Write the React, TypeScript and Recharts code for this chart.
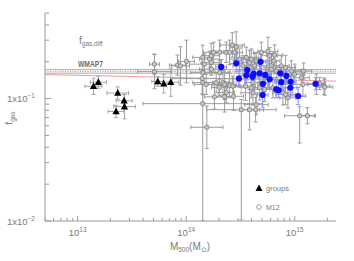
import React from 'react';
import { ScatterChart, Scatter, XAxis, YAxis, ErrorBar, ReferenceLine, ReferenceArea } from 'recharts';

const AXIS = '#9c9c9c';
const TXT = '#7a7a7a';
const FONT = '"Liberation Sans", Arial, sans-serif';

// Masses in units of 1e14 Msun
const groupsMass = [0.14, 0.155, 0.234, 0.268, 0.27, 0.226, 0.547, 0.621, 0.721];
const groupsFgas = [0.126, 0.136, 0.111, 0.096, 0.086, 0.0785, 0.138, 0.132, 0.136];
const groupsMassErr = [0.078, 0.074, 0.1, 0.074, 0.1, 0.074, 0.055, 0.074, 0.074];
const groupsFgasErr = [0.066, 0.05, 0.05, 0.05, 0.1, 0.05, 0.04, 0.075, 0.115];

const blueMass = [2.1, 2.89, 4.85, 3.65, 3.06, 3.58, 4.18, 4.75, 5.35, 5.87, 5.09, 7.36, 8.37, 7.52, 9.17, 6.76, 7.1, 9.11, 5.06, 10.75, 15.6, 4.09];
const blueFgas = [0.1815, 0.194, 0.1995, 0.171, 0.1455, 0.155, 0.159, 0.161, 0.156, 0.1436, 0.132, 0.161, 0.153, 0.136, 0.137, 0.119, 0.117, 0.1226, 0.107, 0.105, 0.132, 0.151];
const blueMassErr = [0.05, 0.06, 0.05, 0.07, 0.05, 0.06, 0.04, 0.06, 0.05, 0.06, 0.05, 0.06, 0.05, 0.06, 0.05, 0.06, 0.05, 0.06, 0.05, 0.07, 0.08, 0.05];
const blueFgasErr = [0.06, 0.07, 0.06, 0.08, 0.07, 0.06, 0.05, 0.07, 0.06, 0.07, 0.06, 0.05, 0.06, 0.06, 0.05, 0.07, 0.06, 0.06, 0.1, 0.07, 0.05, 0.06];

const m12Mass = [0.51, 0.51, 0.831, 0.886, 1.006, 1.42, 1.475, 1.64, 1.405, 1.42, 1.53, 1.7, 1.79, 2.03, 2.34, 2.66, 2.89, 2.79, 3.1, 3.58, 3.84, 4.27, 3.33, 3.98, 4.42, 4.92, 5.66, 5.87, 6.08, 6.53, 6.43, 7.52, 6.76, 8.24, 9.3, 9.98, 12.08, 11.5, 11.9, 15.8, 18.6, 16.97, 1.42, 2.03, 1.89, 2.18, 2.03, 2.26, 2.51, 2.69, 3.52, 3.98, 4.12, 4.75, 5.28, 5.66, 6.29, 7.78, 8.65, 8.24, 1.82, 2.26, 2.34, 2.73, 4.12, 3.22, 3.84, 4.36, 4.42, 1.42, 1.55, 11.1, 13.07, 18.9, 6.08, 2.51, 1.7, 1.71];
const m12Fgas = [0.191, 0.166, 0.1875, 0.185, 0.201, 0.217, 0.191, 0.21, 0.1455, 0.135, 0.1306, 0.224, 0.2385, 0.2385, 0.2385, 0.274, 0.264, 0.2385, 0.21, 0.217, 0.197, 0.185, 0.185, 0.21, 0.203, 0.2385, 0.243, 0.224, 0.185, 0.2266, 0.203, 0.185, 0.168, 0.1794, 0.168, 0.158, 0.168, 0.148, 0.1306, 0.1306, 0.1264, 0.133, 0.163, 0.163, 0.135, 0.135, 0.1233, 0.1306, 0.128, 0.1264, 0.1264, 0.1226, 0.135, 0.1226, 0.1187, 0.148, 0.1226, 0.1115, 0.1013, 0.1079, 0.1033, 0.1033, 0.112, 0.1044, 0.1115, 0.0811, 0.0811, 0.0811, 0.0892, 0.0909, 0.0583, 0.0724, 0.0724, 0.124, 0.1738, 0.2385, 0.197, 0.1738];
const m12MassErr = [0.046, 0.157, 0.074, 0.083, 0.074, 0.092, 0.138, 0.092, 0.277, 0.092, 0.11, 0.074, 0.092, 0.074, 0.092, 0.11, 0.055, 0.074, 0.092, 0.11, 0.074, 0.11, 0.092, 0.074, 0.092, 0.074, 0.092, 0.074, 0.092, 0.074, 0.055, 0.074, 0.092, 0.092, 0.074, 0.092, 0.074, 0.074, 0.092, 0.074, 0.055, 0.055, 0.11, 0.092, 0.11, 0.092, 0.074, 0.11, 0.092, 0.074, 0.092, 0.092, 0.074, 0.074, 0.092, 0.092, 0.074, 0.092, 0.074, 0.092, 0.092, 0.092, 0.074, 0.092, 0.11, 0.32, 0.092, 0.074, 0.11, 0.55, 0.148, 0.138, 0.074, 0.074, 0.092, 0.074, 0.092, 0.11];
const m12FgasErrLo = [0.083, 0.14, 0.083, 0.157, 0.174, 0.1, 0.083, 0.066, 0.124, 0.1, 0.083, 0.1, 0.083, 0.1, 0.083, 0.1, 0.124, 0.066, 0.083, 0.083, 0.1, 0.1, 0.083, 0.083, 0.066, 0.083, 0.116, 0.066, 0.1, 0.083, 0.066, 0.083, 0.083, 0.1, 0.083, 0.083, 0.066, 0.066, 0.1, 0.083, 0.066, 0.05, 0.083, 0.1, 0.083, 0.1, 0.066, 0.124, 0.1, 0.083, 0.116, 0.083, 0.083, 0.1, 0.1, 0.083, 0.083, 0.1, 0.083, 0.083, 0.1, 0.124, 0.083, 0.116, 0.1, 0.9, 0.165, 0.1, 0.083, 0.955, 0.174, 0.223, 0.066, 0.066, 0.083, 0.1, 0.083, 0.05];
const m12FgasErrHi = [0.083, 0.14, 0.083, 0.157, 0.174, 0.1, 0.083, 0.066, 0.124, 0.1, 0.083, 0.1, 0.083, 0.1, 0.083, 0.1, 0.124, 0.066, 0.083, 0.083, 0.1, 0.1, 0.083, 0.083, 0.066, 0.083, 0.116, 0.066, 0.1, 0.083, 0.066, 0.083, 0.083, 0.1, 0.083, 0.083, 0.066, 0.066, 0.1, 0.083, 0.066, 0.05, 0.083, 0.1, 0.083, 0.1, 0.066, 0.124, 0.1, 0.083, 0.116, 0.083, 0.083, 0.1, 0.1, 0.083, 0.083, 0.1, 0.083, 0.083, 0.1, 0.124, 0.083, 0.116, 0.1, 0.083, 0.165, 0.1, 0.083, 0.165, 0.174, 0.074, 0.066, 0.066, 0.083, 0.1, 0.083, 0.05];

// WMAP7 baryon fraction band and the red reference relation
const wmap7 = 0.167;
const wmap7Err = 0.006;
const redLineMass = [0.05, 24];
const redLineFgas = [0.157, 0.139];

const xDomain = [0.05, 24];
const yDomain = [0.01, 0.5];
const xTicks = [0.05, 0.06, 0.07, 0.08, 0.09, 0.1, 0.2, 0.3, 0.4, 0.5, 0.6, 0.7, 0.8, 0.9, 1, 2, 3, 4, 5, 6, 7, 8, 9, 10, 20];
const yTicks = [0.01, 0.02, 0.03, 0.04, 0.05, 0.06, 0.07, 0.08, 0.09, 0.1, 0.2, 0.3, 0.4, 0.5];

const dex = (v: number, lo: number, hi: number) => [v - v / Math.pow(10, lo), v * Math.pow(10, hi) - v];

const groupsData = groupsMass.map((m, i) => ({
  x: m, y: groupsFgas[i],
  ex: dex(m, groupsMassErr[i], groupsMassErr[i]),
  ey: dex(groupsFgas[i], groupsFgasErr[i], groupsFgasErr[i]),
}));
const blueData = blueMass.map((m, i) => ({
  x: m, y: blueFgas[i],
  ex: dex(m, blueMassErr[i], blueMassErr[i]),
  ey: dex(blueFgas[i], blueFgasErr[i], blueFgasErr[i]),
}));
const m12Data = m12Mass.map((m, i) => ({
  x: m, y: m12Fgas[i],
  ex: dex(m, m12MassErr[i], m12MassErr[i]),
  ey: dex(m12Fgas[i], m12FgasErrLo[i], m12FgasErrHi[i]),
}));

const getEx = (d: any) => (d && d.ex !== undefined ? d.ex : d?.payload?.ex);
const getEy = (d: any) => (d && d.ey !== undefined ? d.ey : d?.payload?.ey);

const isMajor = (v: number) => Math.abs(Math.log10(v) - Math.round(Math.log10(v))) < 1e-6;

const BottomTick = (p: any) => {
  const { x, y, payload } = p;
  const v = payload.value;
  const major = isMajor(v);
  const exp = 14 + Math.round(Math.log10(v));
  return (
    <g>
      <line x1={x} x2={x} y1={y} y2={y - (major ? 5 : 3)} stroke={AXIS} />
      {major && (
        <text x={x} y={y + 15} textAnchor="middle" fontSize={9.5} fill={TXT} fontFamily={FONT}>
          10<tspan dy={-4} fontSize={6.5}>{exp}</tspan>
        </text>
      )}
    </g>
  );
};
const TopTick = (p: any) => {
  const { x, y, payload } = p;
  const major = isMajor(payload.value);
  return <line x1={x} x2={x} y1={y} y2={y + (major ? 5 : 3)} stroke={AXIS} />;
};
const LeftTick = (p: any) => {
  const { x, y, payload } = p;
  const v = payload.value;
  const major = isMajor(v);
  const exp = Math.round(Math.log10(v));
  return (
    <g>
      <line x1={x} x2={x + (major ? 6 : 4)} y1={y} y2={y} stroke={AXIS} />
      {major && (
        <text x={x - 10} y={y + 3.5} textAnchor="end" fontSize={9.5} fill={TXT} fontFamily={FONT}>
          1x10<tspan dy={-4} fontSize={6.5}>{'\u2212' + Math.abs(exp)}</tspan>
        </text>
      )}
    </g>
  );
};
const RightTick = (p: any) => {
  const { x, y, payload } = p;
  const major = isMajor(payload.value);
  return <line x1={x} x2={x - (major ? 6 : 4)} y1={y} y2={y} stroke={AXIS} />;
};

const GreyCircle = (p: any) => (
  <circle cx={p.cx} cy={p.cy} r={2.2} fill="#c6c6c6" stroke="#7a7a7a" strokeWidth={0.8} />
);
const BlueDot = (p: any) => <circle cx={p.cx} cy={p.cy} r={3.1} fill="#0b0bff" />;
const Triangle = (p: any) => (
  <polygon points={`${p.cx},${p.cy - 4} ${p.cx - 3.6},${p.cy + 2.8} ${p.cx + 3.6},${p.cy + 2.8}`} fill="#000" />
);

export default function App() {
  return (
    <div style={{ position: 'absolute', left: 0, top: 0, width: 354, height: 261, background: '#fff' }}>
      <ScatterChart width={354} height={261} margin={{ top: 13, right: 18, bottom: 0, left: 0 }}>
        <XAxis
          xAxisId={0} dataKey="x" type="number" scale="log" domain={xDomain} allowDataOverflow
          ticks={xTicks} interval={0} tickSize={0} tickMargin={0} tickLine={false}
          tick={<BottomTick />} height={40} axisLine={{ stroke: AXIS }}
        />
        <XAxis
          xAxisId="top" orientation="top" type="number" scale="log" domain={xDomain} allowDataOverflow
          ticks={xTicks} interval={0} tickSize={0} tickMargin={0} tickLine={false}
          tick={<TopTick />} height={0} axisLine={{ stroke: AXIS }}
        />
        <YAxis
          yAxisId={0} dataKey="y" type="number" scale="log" domain={yDomain} allowDataOverflow
          ticks={yTicks} interval={0} tickSize={0} tickMargin={0} tickLine={false}
          tick={<LeftTick />} width={45} axisLine={{ stroke: AXIS }}
        />
        <YAxis
          yAxisId="right" orientation="right" type="number" scale="log" domain={yDomain} allowDataOverflow
          ticks={yTicks} interval={0} tickSize={0} tickMargin={0} tickLine={false}
          tick={<RightTick />} width={0} axisLine={{ stroke: AXIS }}
        />
        <ReferenceArea y1={wmap7 - wmap7Err} y2={wmap7 + wmap7Err} fill="#f2f2f2" fillOpacity={1} stroke="none" ifOverflow="visible" />
        <ReferenceLine y={wmap7 + wmap7Err} stroke="#b4b4b4" strokeWidth={1} />
        <ReferenceLine y={wmap7 - wmap7Err} stroke="#b4b4b4" strokeWidth={1} />
        <ReferenceLine y={wmap7} stroke="#a0a0a0" strokeWidth={1} strokeDasharray="1 1.5" />
        <ReferenceLine
          segment={[{ x: redLineMass[0], y: redLineFgas[0] }, { x: redLineMass[1], y: redLineFgas[1] }]}
          stroke="#f29a9a" strokeWidth={1} ifOverflow="visible"
        />
        <Scatter data={m12Data} shape={<GreyCircle />} isAnimationActive={false}>
          <ErrorBar dataKey={getEx} direction="x" width={2} stroke="#9c9c9c" strokeWidth={1} />
          <ErrorBar dataKey={getEy} direction="y" width={2} stroke="#9c9c9c" strokeWidth={1} />
        </Scatter>
        <Scatter data={blueData} shape={<BlueDot />} isAnimationActive={false}>
          <ErrorBar dataKey={getEx} direction="x" width={2} stroke="#8c8cf2" strokeWidth={1} />
          <ErrorBar dataKey={getEy} direction="y" width={2} stroke="#8c8cf2" strokeWidth={1} />
        </Scatter>
        <Scatter data={groupsData} shape={<Triangle />} isAnimationActive={false}>
          <ErrorBar dataKey={getEx} direction="x" width={2} stroke="#a6a6a6" strokeWidth={1} />
          <ErrorBar dataKey={getEy} direction="y" width={2} stroke="#a6a6a6" strokeWidth={1} />
        </Scatter>
      </ScatterChart>
      <svg width={354} height={261} style={{ position: 'absolute', left: 0, top: 0, pointerEvents: 'none' }} fontFamily={FONT}>
        <text x={79} y={44} fontSize={10} fill={TXT}>
          f<tspan dy={2} fontSize={6.5}>gas,diff</tspan>
        </text>
        <text x={78} y={67} fontSize={9} fontWeight="bold" fill="#6e6e6e" textLength={25} lengthAdjust="spacingAndGlyphs">WMAP7</text>
        <text x={190} y={250} fontSize={10} fill={TXT} textAnchor="middle">
          M<tspan dy={2} fontSize={6.5}>500</tspan><tspan dy={-2}>(M</tspan><tspan dy={2} fontSize={6.5}>{'\u2299'}</tspan><tspan dy={-2}>)</tspan>
        </text>
        <text x={13} y={118} fontSize={10} fill={TXT} textAnchor="middle" transform="rotate(-90 13 118)">
          f<tspan dy={2} fontSize={6.5}>gas</tspan>
        </text>
        <polygon points="259,184.5 255.5,191 262.5,191" fill="#000" />
        <text x={266} y={190.5} fontSize={7.5} fill={TXT}>groups</text>
        <circle cx={259} cy={207} r={2.4} fill="#fff" stroke="#8a8a8a" strokeWidth={0.8} />
        <text x={266} y={209.5} fontSize={7} fill={TXT}>M12</text>
      </svg>
    </div>
  );
}
